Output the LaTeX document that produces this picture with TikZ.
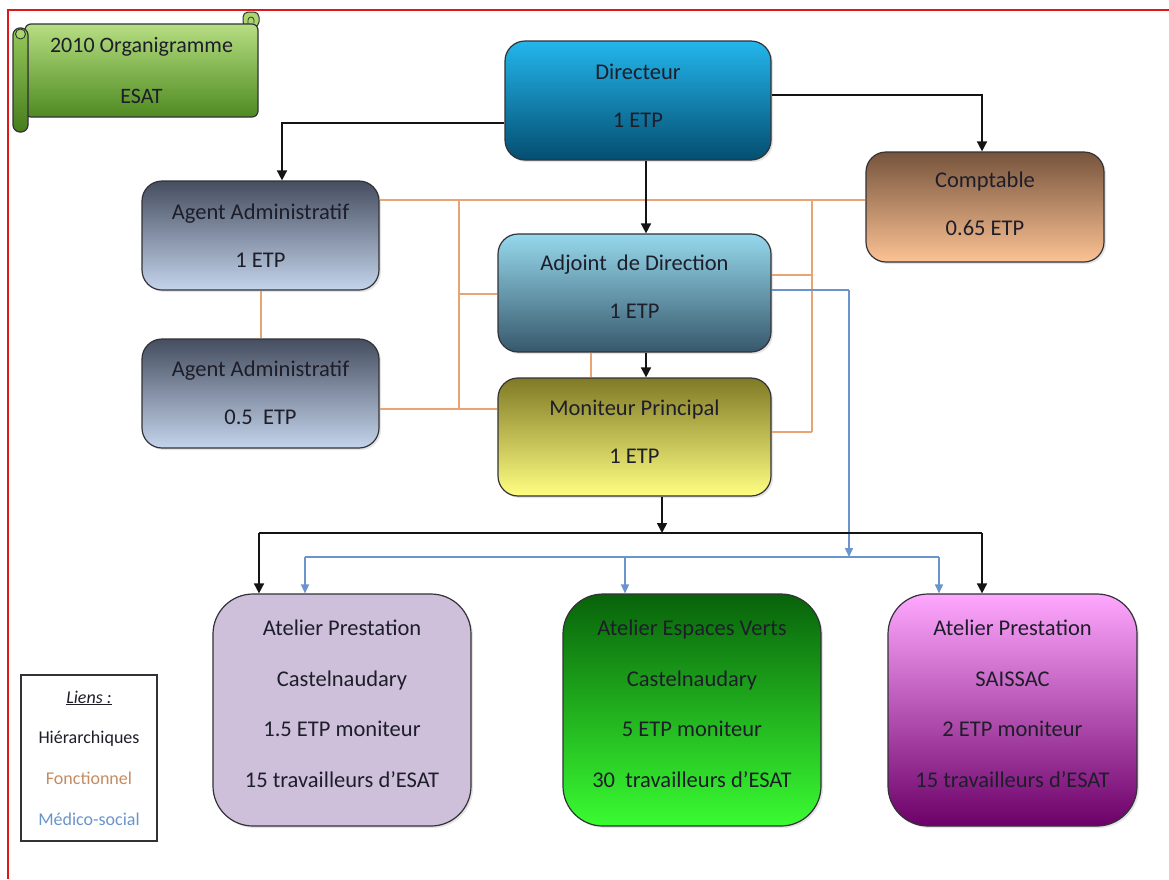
\documentclass[tikz,border=0pt]{standalone}
\usepackage{fontspec}
\setmainfont{Carlito}
\usetikzlibrary{arrows.meta,shadows}
\definecolor{bordc}{RGB}{50,50,55}
\definecolor{txtc}{RGB}{30,30,42}
\definecolor{hierc}{RGB}{20,20,20}
\definecolor{foncc}{RGB}{232,165,115}
\definecolor{medc}{RGB}{105,148,205}
\definecolor{redc}{RGB}{222,24,24}
\newcommand{\lowstrut}[1]{\rule[-#1]{0pt}{#1}}
\begin{document}
\begin{tikzpicture}[x=1pt,y=-1pt,
  box/.style={draw=bordc, line width=1.2pt, rounded corners=20pt, inner sep=0pt,
    align=center, text=txtc, font=\fontsize{22.5}{48}\selectfont,
    drop shadow={opacity=0.2, shadow xshift=2pt, shadow yshift=-2pt}},
  atbox/.style={box, rounded corners=40pt, font=\fontsize{22.5}{50.5}\selectfont,
    minimum width=258pt, minimum height=232pt},
  hier/.style={draw=hierc, line width=1.6pt, -{Triangle[length=10pt,width=10pt]}},
  hierline/.style={draw=hierc, line width=1.6pt},
  med/.style={draw=medc, line width=1.4pt, -{Triangle[length=9pt,width=8pt]}},
  medline/.style={draw=medc, line width=1.4pt},
  fonc/.style={draw=foncc, line width=1.4pt}
]
\useasboundingbox (0,0) rectangle (1169,879);
\fill[white] (0,0) rectangle (1169,879);
\draw[redc, line width=2.5pt] (8,879) -- (8,10) -- (1169,10);

% title scroll
\filldraw[draw=bordc, line width=1pt, fill={rgb,255:red,170;green,214;blue,110}, rounded corners=5pt] (243,12) rectangle (259,27);
\draw[bordc, line width=0.8pt] (248,27) -- (248,20) arc[start angle=180, end angle=360, radius=3] -- (254,23);
\node[draw=bordc, line width=1.2pt, rounded corners=6pt, inner sep=0pt, align=center,
  text=txtc, font=\fontsize{22}{51}\selectfont,
  top color={rgb,255:red,182;green,222;blue,130}, bottom color={rgb,255:red,78;green,138;blue,32},
  minimum width=233pt, minimum height=93pt] (title) at (141.5,70.5) {2010 Organigramme\\ESAT};
\filldraw[draw=bordc, line width=1.2pt, rounded corners=7pt,
  top color={rgb,255:red,150;green,200;blue,90}, bottom color={rgb,255:red,70;green,125;blue,28}] (13,28) rectangle (28,132);
\filldraw[draw=bordc, line width=0.9pt, fill={rgb,255:red,170;green,214;blue,110}] (20.5,34) circle (5);

% boxes
\node[box, minimum width=266pt, minimum height=119pt,
  top color={rgb,255:red,35;green,182;blue,236}, bottom color={rgb,255:red,4;green,78;blue,112}]
  (dir) at (638,100.5) {Directeur\\1 ETP\lowstrut{10pt}};
\node[box, minimum width=238pt, minimum height=110pt,
  top color={rgb,255:red,118;green,84;blue,60}, bottom color={rgb,255:red,252;green,194;blue,148}]
  (compt) at (985,207) {Comptable\\0.65 ETP\lowstrut{7pt}};
\node[box, minimum width=237pt, minimum height=109pt,
  top color={rgb,255:red,70;green,78;blue,96}, bottom color={rgb,255:red,196;green,212;blue,236}]
  (ag1) at (260.5,235.5) {Agent Administratif\\1 ETP};
\node[box, minimum width=237pt, minimum height=109pt,
  top color={rgb,255:red,70;green,78;blue,96}, bottom color={rgb,255:red,196;green,212;blue,236}]
  (ag2) at (260.5,393.5) {Agent Administratif\\0.5~~ETP\lowstrut{2pt}};
\node[box, minimum width=273pt, minimum height=118pt,
  top color={rgb,255:red,150;green,216;blue,236}, bottom color={rgb,255:red,55;green,88;blue,108}]
  (adj) at (634.5,293) {Adjoint~~de Direction\\1 ETP\lowstrut{12pt}};
\node[box, minimum width=273pt, minimum height=118pt,
  top color={rgb,255:red,128;green,122;blue,38}, bottom color={rgb,255:red,255;green,255;blue,130}]
  (mon) at (634.5,437) {Moniteur Principal\\1 ETP\lowstrut{11pt}};

\node[atbox, fill={rgb,255:red,206;green,192;blue,218}]
  (at1) at (342,710) {Atelier Prestation\\Castelnaudary\\1.5 ETP moniteur\\15 travailleurs d’ESAT\lowstrut{13pt}};
\node[atbox, top color={rgb,255:red,8;green,98;blue,10}, bottom color={rgb,255:red,58;green,252;blue,50}]
  (at2) at (692,710) {Atelier Espaces Verts\\Castelnaudary\\5 ETP moniteur\\30~~travailleurs d’ESAT\lowstrut{13pt}};
\node[atbox, minimum width=249pt, top color={rgb,255:red,255;green,168;blue,255}, bottom color={rgb,255:red,108;green,0;blue,104}]
  (at3) at (1012.5,710) {Atelier Prestation\\SAISSAC\\2 ETP moniteur\\15 travailleurs d’ESAT\lowstrut{13pt}};

% legend
\node[draw=bordc, line width=1.2pt, fill=white, minimum width=136pt, minimum height=166pt,
  inner sep=0pt, align=center, font=\fontsize{18}{40.7}\selectfont, text=txtc]
  (leg) at (89,758) {\underline{\textit{Liens :}}\\Hiérarchiques\\{\color{foncc!85!black}Fonctionnel}\\{\color{medc}Médico-social}};

% named junctions
\coordinate (hA) at (282,123);
\coordinate (hB) at (982,95);
\coordinate (hD) at (646,0);
\coordinate (hC) at (662,533);
\coordinate (hL) at (259,533);
\coordinate (hR) at (982,533);
\coordinate (mA) at (849,290);
\coordinate (mB) at (849,557);
\coordinate (mL) at (305,557);
\coordinate (mM) at (625,557);
\coordinate (mR) at (939,557);
\coordinate (fA) at (459,200);
\coordinate (fB) at (459,294);
\coordinate (fC) at (459,409);
\coordinate (fD) at (812,200);
\coordinate (fE) at (812,275);
\coordinate (fF) at (812,432);
\coordinate (fG) at (261,0);
\coordinate (fH) at (591,0);

% fonctionnel links
\draw[fonc] (ag1.east |- fA) -- (compt.west |- fA);
\draw[fonc] (fA) -- (fC);
\draw[fonc] (fB) -- (adj.west |- fB);
\draw[fonc] (ag2.east |- fC) -- (mon.west |- fC);
\draw[fonc] (ag1.south -| fG) -- (ag2.north -| fG);
\draw[fonc] (fD) -- (fF);
\draw[fonc] (adj.east |- fE) -- (fE);
\draw[fonc] (mon.east |- fF) -- (fF);
\draw[fonc] (adj.south -| fH) -- (mon.north -| fH);

% medico-social links
\draw[medline] (adj.east |- mA) -- (mA);
\draw[med] (mA) -- (mB);
\draw[medline] (mL) -- (mR);
\draw[med] (mL) -- (at1.north -| mL);
\draw[med] (mM) -- (at2.north -| mM);
\draw[med] (mR) -- (at3.north -| mR);

% hierarchical links
\draw[hier] (dir.west |- hA) -| (ag1.north -| hA);
\draw[hier] (dir.east |- hB) -| (compt.north -| hB);
\draw[hier] (dir.south -| hD) -- (adj.north -| hD);
\draw[hier] (adj.south -| hD) -- (mon.north -| hD);
\draw[hier] (mon.south -| hC) -- (hC);
\draw[hierline] (hL) -- (hR);
\draw[hier] (hL) -- (at1.north -| hL);
\draw[hier] (hR) -- (at3.north -| hR);
\end{tikzpicture}
\end{document}
